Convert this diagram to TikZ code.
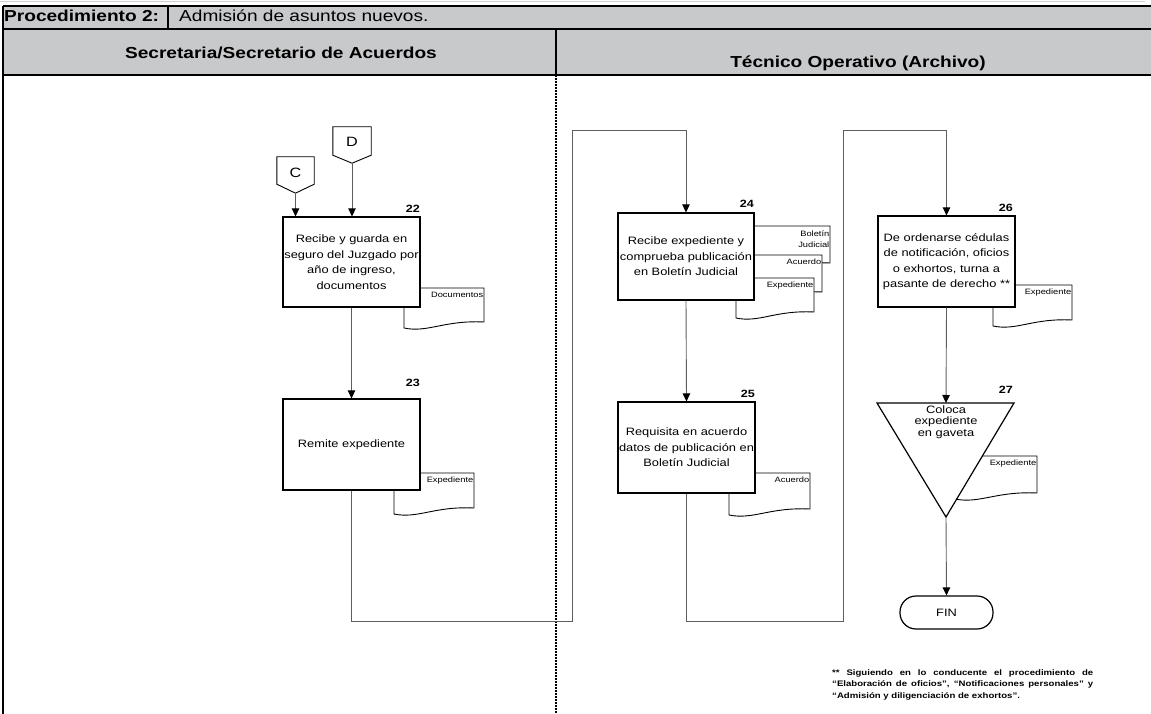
\documentclass[tikz,border=0pt]{standalone}
\usepackage{fontspec}
\setmainfont{Liberation Sans}[FakeStretch=1.2]
\usetikzlibrary{arrows.meta}

\definecolor{bandgray}{HTML}{C8C9CB}
\definecolor{hairgray}{HTML}{CFCFCF}
\definecolor{linkgray}{HTML}{5E5E5E}

% document symbol: left x, top y, right x, bottom-left y (y grows downwards)
\newcommand\DocShape[4]{%
  \draw[docline] (#1,#2) -- (#3,#2) -- (#3,#4-6)
    .. controls ({#1+0.5*(#3-#1)},#4-8) and ({#1+0.3*(#3-#1)},#4+5) .. (#1,#4) -- cycle;}

\begin{document}
\begin{tikzpicture}[x=1pt,y=-1pt,
  rule/.style={draw=black, line width=1.4pt},
  laneline/.style={draw=black, line width=1.5pt, dash pattern=on 2pt off 1pt},
  headbold/.style={inner sep=0pt, font=\bfseries\fontsize{15.9}{18}\selectfont},
  headplain/.style={inner sep=0pt, font=\fontsize{15.9}{18}\selectfont},
  stepbox/.style={draw=black, fill=white, line width=1.2pt, inner sep=0pt, align=center,
    font=\fontsize{10.7}{15.5}\selectfont},
  stepnum/.style={inner sep=0pt, anchor=east, font=\bfseries\fontsize{10.5}{12}\selectfont},
  docline/.style={draw=black, fill=white, line width=0.9pt},
  doclabel/.style={inner sep=0pt, align=right, anchor=east, font=\fontsize{7.75}{11.5}\selectfont},
  offpage/.style={inner sep=0pt, font=\fontsize{13.5}{14}\selectfont},
  flow/.style={draw=linkgray, line width=0.9pt, -{Triangle[length=8pt,width=7.5pt,color=black]}},
]
\useasboundingbox (0,0) rectangle (1151,714);

% ---- header band ----
\fill[bandgray] (3,6) rectangle (1151,75);
\draw[hairgray, line width=1.5pt] (0,1.5) -- (1145,1.5);
\draw[rule] (3,6) -- (1151,6);
\draw[rule] (3,29) -- (1151,29);
\draw[rule] (3,75) -- (1151,75);
\draw[rule] (168,6) -- (168,29);
\draw[rule] (556,29) -- (556,75);
\draw[rule] (3,6) -- (3,714);
\draw[laneline] (556,75) -- (556,714);

\node[headbold, anchor=base west] (proc) at (4,22) {Procedimiento 2:};
\node[headplain, anchor=base west] (procname) at (179,22) {Admisión de asuntos nuevos.};
\node[headbold, anchor=base] (laneA) at (281,59) {Secretaria/Secretario de Acuerdos};
\node[headbold, anchor=base] (laneB) at (858,68) {Técnico Operativo (Archivo)};

% ---- off-page connectors ----
\node[offpage, minimum width=37pt, minimum height=36pt, text depth=4pt] (C) at (295.5,175) {C};
\draw[black, line width=0.9pt] (C.north west) -- (C.north east) -- ([yshift=9pt]C.south east)
  -- (C.south) -- ([yshift=9pt]C.south west) -- cycle;
\node[offpage, minimum width=38pt, minimum height=36pt, text depth=6pt] (D) at (352,145) {D};
\draw[black, line width=0.9pt] (D.north west) -- (D.north east) -- ([yshift=8pt]D.south east)
  -- (D.south) -- ([yshift=8pt]D.south west) -- cycle;

% ---- documents (behind their boxes) ----
\DocShape{404}{288}{484}{328}
\node[doclabel] (doc22) at (483.5,295) {Documentos};
\DocShape{394}{473}{474}{514}
\node[doclabel] (doc23) at (473.5,480) {Expediente};
\DocShape{745}{226}{830}{269}
\node[doclabel] (doc24a) at (829.5,239) {Boletín\\Judicial};
\DocShape{745}{255}{822}{298}
\node[doclabel] (doc24b) at (821.5,262) {Acuerdo};
\DocShape{736}{278}{814}{318}
\node[doclabel] (doc24c) at (813.5,285) {Expediente};
\DocShape{729}{473}{810}{515}
\node[doclabel] (doc25) at (809.5,480) {Acuerdo};
\DocShape{993}{285}{1072}{326}
\node[doclabel] (doc26) at (1071.5,292) {Expediente};
\DocShape{955}{456}{1037}{499}
\node[doclabel] (doc27) at (1036.5,463) {Expediente};

% ---- process boxes ----
\node[stepbox, minimum width=137pt, minimum height=90pt] (b22) at (351.5,262)
  {Recibe y guarda en\\seguro del Juzgado por\\año de ingreso,\\documentos};
\node[stepbox, minimum width=137pt, minimum height=91pt] (b23) at (351.5,444.5)
  {Remite expediente};
\node[stepbox, minimum width=136pt, minimum height=87pt] (b24) at (686,256.5)
  {Recibe expediente y\\comprueba publicación\\en Boletín Judicial};
\node[stepbox, minimum width=137pt, minimum height=91pt] (b25) at (686.5,447.5)
  {Requisita en acuerdo\\datos de publicación en\\Boletín Judicial};
\node[stepbox, minimum width=137pt, minimum height=91pt] (b26) at (946.5,261.5)
  {De ordenarse cédulas\\de notificación, oficios\\o exhortos, turna a\\pasante de derecho **};

% archive (inverted triangle)
\coordinate (t27top) at (946,403);
\coordinate (t27tip) at (946,517);
\draw[black, fill=white, line width=1.2pt] (877,403) -- (1014,403) -- (t27tip) -- cycle;
\node[inner sep=0pt, align=center, font=\fontsize{10.7}{11.5}\selectfont] (t27) at (946,422)
  {Coloca\\expediente\\en gaveta};

% terminator
\node[draw=black, line width=1.2pt, rounded corners=16pt, minimum width=93pt, minimum height=33pt,
  inner sep=0pt, font=\fontsize{10.7}{12}\selectfont] (fin) at (946.5,612.5) {FIN};

% step numbers
\node[stepnum] (n22) at (420,209) {22};
\node[stepnum] (n23) at (420,383) {23};
\node[stepnum] (n24) at (754,204) {24};
\node[stepnum] (n25) at (755,394) {25};
\node[stepnum] (n26) at (1013,208) {26};
\node[stepnum] (n27) at (1013,390) {27};

% ---- connectors ----
\coordinate (hopA1) at (572,621);
\coordinate (hopA2) at (572,130);
\coordinate (hopB1) at (843,621);
\coordinate (hopB2) at (843,130);

\draw[flow] (C.south) -- (C.south |- b22.north);
\draw[flow] (D.south) -- (D.south |- b22.north);
\draw[flow] (b22.south) -- (b23.north);
\draw[flow] (b23.south) |- (hopA1) -- (hopA2) -| (b24.north);
\draw[flow] (b24.south) -- (b25.north);
\draw[flow] (b25.south) |- (hopB1) -- (hopB2) -| (b26.north);
\draw[flow] (b26.south) -- (t27top);
\draw[flow] (t27tip) -- (fin.north);

% ---- footnote ----
\node[anchor=north west, inner sep=0pt, align=left, font=\bfseries\fontsize{8}{11.5}\selectfont] (nota)
  at (832,669)
  {\makebox[261pt][s]{** Siguiendo en lo conducente el procedimiento de}\\
   \makebox[261pt][s]{“Elaboración de oficios”, “Notificaciones personales” y}\\
   “Admisión y diligenciación de exhortos”.};
\end{tikzpicture}
\end{document}
